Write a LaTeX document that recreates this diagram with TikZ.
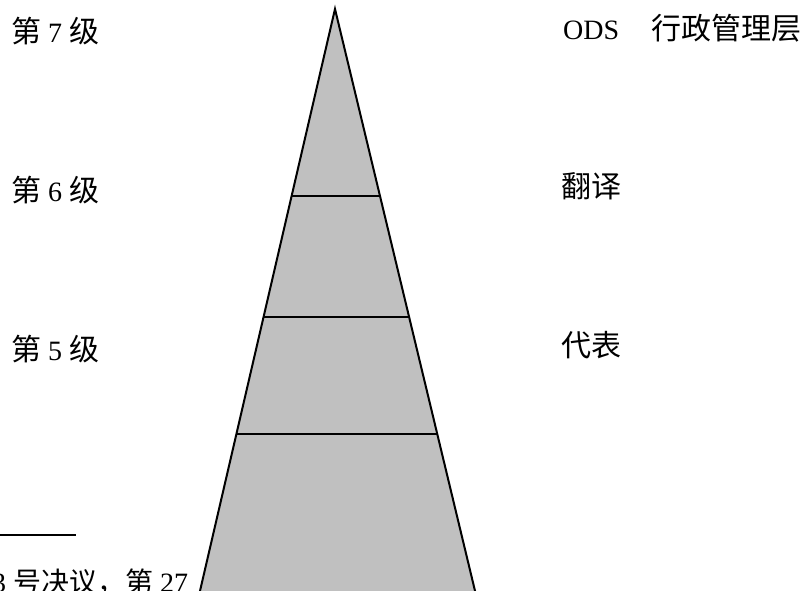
\documentclass[tikz,border=0pt]{standalone}
\usepackage{fontspec}
\setmainfont{Liberation Serif}
\newfontfamily\cjk{Noto Sans CJK SC}
\newcommand\zhbig[1]{{\cjk\fontsize{30}{32}\selectfont #1}}
\usetikzlibrary{calc}
\definecolor{pyrgray}{RGB}{192,192,192}
\begin{document}
\begin{tikzpicture}[x=1pt,y=-1pt,
  lbl/.style={inner sep=0pt, anchor=west, font=\fontsize{28}{30}\selectfont},
  tier/.style={line width=2pt},
  edge/.style={line width=2pt, line join=miter}]
\useasboundingbox (0,0) rectangle (809,591);
\clip (0,0) rectangle (809,591);
% footnote fragment
\coordinate (r0) at (0,535);
\coordinate (r1) at (76,535);
\draw[line width=1.5pt] (r0) -- (r1);
\node[lbl, anchor=base west] (foot) at (-8,592) {3 {\cjk 号决议，第} 27};
% pyramid
\coordinate (apex) at (335,9);
\coordinate (bl) at (197.9,600);
\coordinate (br) at (477.2,600);
\fill[pyrgray] (bl) -- (apex) -- (br) -- cycle;
\draw[edge] (bl) -- (apex) -- (br);
\coordinate (t1l) at (291.6,196);
\coordinate (t1r) at (379.8,196);
\coordinate (t2l) at (263.6,317);
\coordinate (t2r) at (409.1,317);
\coordinate (t3l) at (236.4,434);
\coordinate (t3r) at (437.2,434);
\draw[tier] (t1l) -- (t1r);
\draw[tier] (t2l) -- (t2r);
\draw[tier] (t3l) -- (t3r);
% left labels
\node[lbl] (l7) at (11,31) {\zhbig{第} 7 \zhbig{级}};
\node[lbl] (l6) at (11,190) {\zhbig{第} 6 \zhbig{级}};
\node[lbl] (l5) at (11,349) {\zhbig{第} 5 \zhbig{级}};
% right labels
\node[lbl] (ods) at (563,28) {ODS\hspace{32pt}\zhbig{行政管理层}};
\node[lbl] (tr) at (561,186) {\zhbig{翻译}};
\node[lbl] (rep) at (561,345) {\zhbig{代表}};
\end{tikzpicture}
\end{document}
